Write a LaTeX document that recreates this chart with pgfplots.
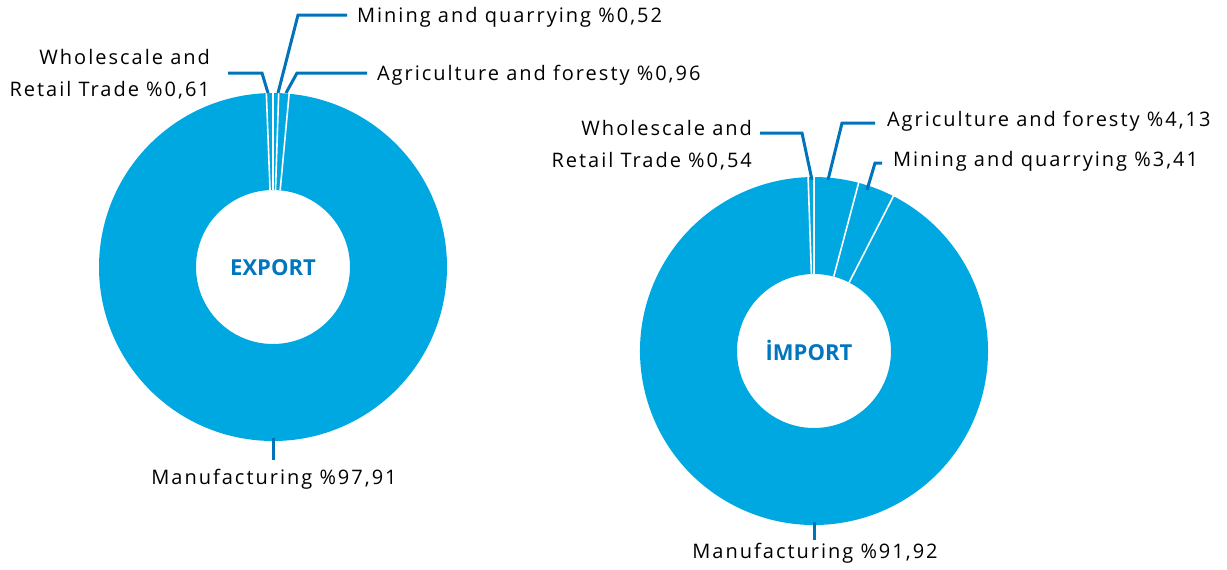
\documentclass[border=0pt]{standalone}
\usepackage{fontspec}
\setmainfont{Open Sans}[LetterSpace=10]
\usepackage{pgfplots}
\usepackage{pgfplotstable}
\pgfplotsset{compat=1.18}

\definecolor{slice}{RGB}{0,168,226}
\definecolor{leader}{RGB}{0,115,187}
\definecolor{lbl}{RGB}{108,108,108}
\definecolor{centre}{RGB}{0,118,190}

% shares in percent, clockwise from 12 o'clock
\pgfplotstableread{
sector value
Mining 0.52
Agriculture 0.96
Manufacturing 97.91
Wholesale 0.61
}\exporttable

\pgfplotstableread{
sector value
Agriculture 4.13
Mining 3.41
Manufacturing 91.92
Wholesale 0.54
}\importtable

\newcommand\rout{87pt}
\newcommand\rin{38.5pt}

% #1 table, #2 #3 centre in axis units
\newcommand{\donut}[3]{%
  \pgfplotstablegetrowsof{#1}%
  \pgfmathtruncatemacro\lastrow{\pgfplotsretval-1}%
  \xdef\cum{0}%
  \foreach \i in {0,...,\lastrow}{%
    \pgfplotstablegetelem{\i}{value}\of{#1}%
    \let\val\pgfplotsretval
    \pgfmathsetmacro\aa{90-3.6*\cum}%
    \pgfmathsetmacro\ab{90-3.6*(\cum+\val)}%
    \pgfmathsetmacro\newcum{\cum+\val}%
    \xdef\cum{\newcum}%
    \fill[slice, shift={(axis cs:#2,#3)}]
      (\aa:\rout) arc[start angle=\aa, end angle=\ab, radius=\rout]
      -- (\ab:\rin) arc[start angle=\ab, end angle=\aa, radius=\rin] -- cycle;
  }%
  \xdef\cum{0}%
  \foreach \i in {0,...,\lastrow}{%
    \pgfplotstablegetelem{\i}{value}\of{#1}%
    \let\val\pgfplotsretval
    \pgfmathsetmacro\aa{90-3.6*\cum}%
    \pgfmathsetmacro\newcum{\cum+\val}%
    \xdef\cum{\newcum}%
    \draw[white, line width=0.8pt, shift={(axis cs:#2,#3)}] (\aa:\rin) -- (\aa:\rout+1pt);
  }%
}

\begin{document}
\begin{tikzpicture}
\begin{axis}[
    scale only axis,
    width=613.5pt, height=284.5pt,
    xmin=0, xmax=1227, ymin=0, ymax=569,
    y dir=reverse,
    hide axis,
    clip=false,
    every node/.style={font=\fontsize{13.5}{16}\selectfont, text=lbl},
]
\pgfplotsextra{
  \donut{\exporttable}{273}{267}
  \donut{\importtable}{814}{351}
}

\coordinate (sw) at (rel axis cs:0,1);
\coordinate (ne) at (rel axis cs:1,0);

% export labels
\node[font=\bfseries\fontsize{11}{14}\selectfont\addfontfeatures{LetterSpace=0}, text=centre] at (axis cs:273,268) {EXPORT};
\draw[leader, line width=1.5pt] (axis cs:278,93) -- (axis cs:298,15) -- (axis cs:347,15);
\node[anchor=west] at (axis cs:350,17) {Mining and quarrying \%0,52};
\draw[leader, line width=1.5pt] (axis cs:268,93) -- (axis cs:262,73) -- (axis cs:228,73);
\node[anchor=east, align=right] at (axis cs:217,74) {Wholescale and\\[4pt]Retail Trade \%0,61};
\draw[leader, line width=1.5pt] (axis cs:286,93) -- (axis cs:297,73) -- (axis cs:367,73);
\node[anchor=west] at (axis cs:370,75) {Agriculture and foresty \%0,96};
\draw[leader, line width=1.5pt] (axis cs:273,438) -- (axis cs:273,460);
\node at (axis cs:274,479) {Manufacturing \%97,91};

% import labels
\node[font=\bfseries\fontsize{11}{14}\selectfont\addfontfeatures{LetterSpace=0}, text=centre] at (axis cs:809,350) {İMPORT};
\draw[leader, line width=1.5pt] (axis cs:812,180) -- (axis cs:802,133) -- (axis cs:760,133);
\node[anchor=east, align=right] at (axis cs:759,145) {Wholescale and\\[4pt]Retail Trade \%0,54};
\draw[leader, line width=1.5pt] (axis cs:828,180) -- (axis cs:842,123) -- (axis cs:875,123);
\node[anchor=west] at (axis cs:880,121) {Agriculture and foresty \%4,13};
\draw[leader, line width=1.5pt] (axis cs:867,190) -- (axis cs:875,163) -- (axis cs:882,163);
\node[anchor=west] at (axis cs:886,161) {Mining and quarrying \%3,41};
\draw[leader, line width=1.5pt] (axis cs:814,522) -- (axis cs:814,540);
\node at (axis cs:815,553) {Manufacturing \%91,92};
\end{axis}
\pgfresetboundingbox
\path (sw) rectangle (ne);
\end{tikzpicture}
\end{document}
